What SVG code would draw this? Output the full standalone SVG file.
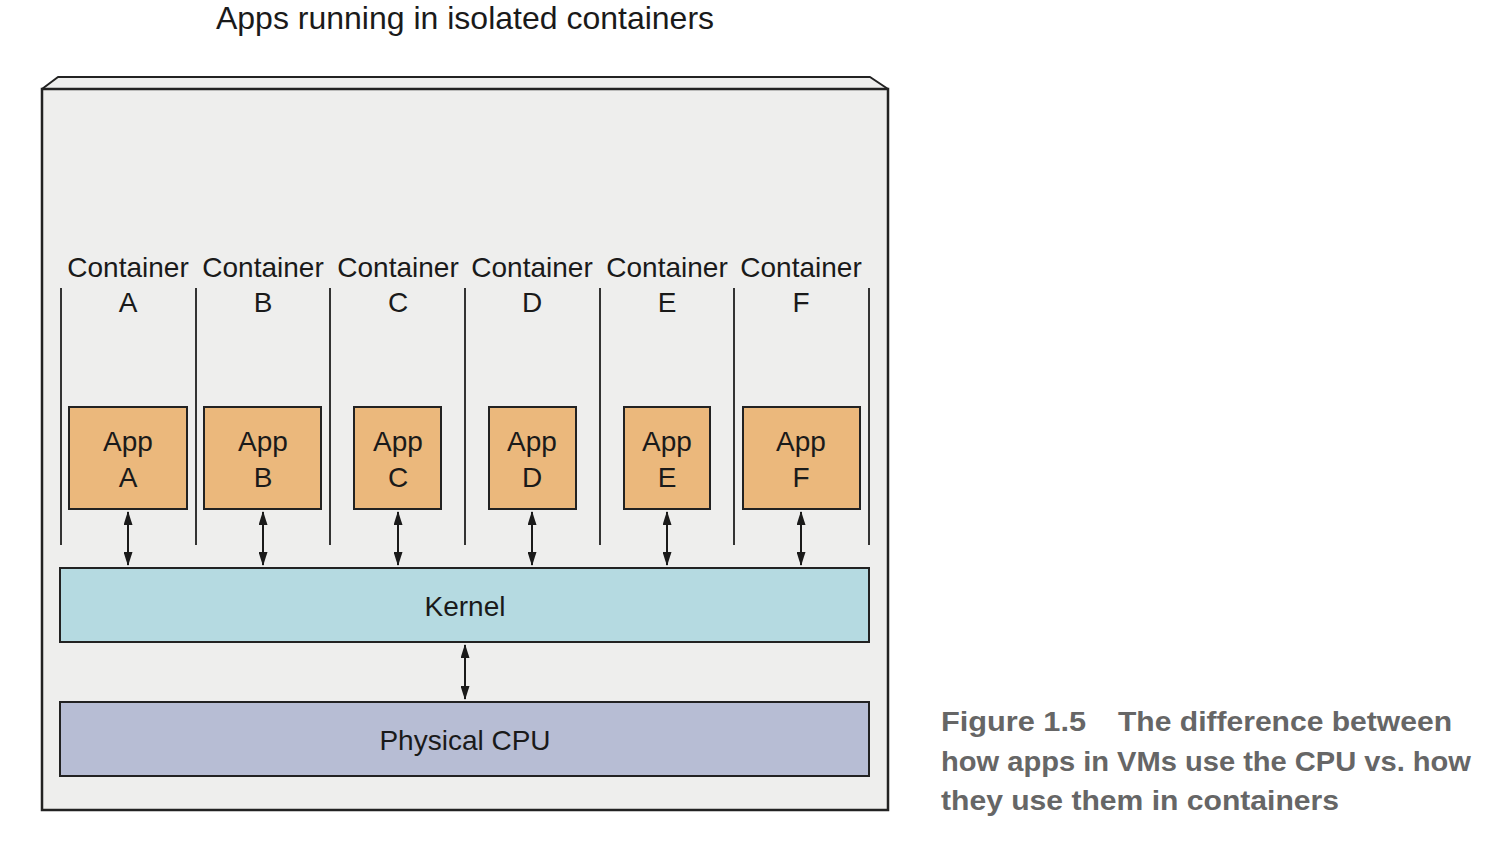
<svg xmlns="http://www.w3.org/2000/svg" width="1486" height="866" viewBox="0 0 1486 866">
<defs>
<style>
text{font-family:"Liberation Sans",Arial,sans-serif;fill:#1a1a1a}
.lbl{font-size:28px;text-anchor:middle}
.app{fill:#ebb87c;stroke:#222;stroke-width:2}
.div{stroke:#333;stroke-width:2;fill:none}
.arr{stroke:#1a1a1a;stroke-width:2;fill:none;marker-start:url(#ah);marker-end:url(#ah)}
.cap{font-size:28px;font-weight:bold;fill:#666}
</style>
<marker id="ah" viewBox="0 0 14 9" refX="13" refY="4.5" markerWidth="14" markerHeight="9" orient="auto-start-reverse" markerUnits="userSpaceOnUse">
<path d="M0,0 L14,4.5 L0,9 Z" fill="#1a1a1a"/>
</marker>
</defs>
<rect width="1486" height="866" fill="#fff"/>
<text x="465" y="29" font-size="32" text-anchor="middle">Apps running in isolated containers</text>
<g id="host">
<path d="M42,89 L58,77 L870,77 L888,89 Z" fill="#eeeeed" stroke="#222" stroke-width="2" stroke-linejoin="round"/>
<rect x="42" y="89" width="846" height="721" fill="#eeeeed" stroke="#222" stroke-width="2.5"/>
</g>
<g id="dividers">
<line class="div" x1="61" y1="288" x2="61" y2="545"/>
<line class="div" x1="196" y1="288" x2="196" y2="545"/>
<line class="div" x1="330" y1="288" x2="330" y2="545"/>
<line class="div" x1="465" y1="288" x2="465" y2="545"/>
<line class="div" x1="600" y1="288" x2="600" y2="545"/>
<line class="div" x1="734" y1="288" x2="734" y2="545"/>
<line class="div" x1="869" y1="288" x2="869" y2="545"/>
</g>
<g id="containerA"><text class="lbl" x="128" y="277">Container</text><text class="lbl" x="128" y="312">A</text></g>
<g id="containerB"><text class="lbl" x="263" y="277">Container</text><text class="lbl" x="263" y="312">B</text></g>
<g id="containerC"><text class="lbl" x="398" y="277">Container</text><text class="lbl" x="398" y="312">C</text></g>
<g id="containerD"><text class="lbl" x="532" y="277">Container</text><text class="lbl" x="532" y="312">D</text></g>
<g id="containerE"><text class="lbl" x="667" y="277">Container</text><text class="lbl" x="667" y="312">E</text></g>
<g id="containerF"><text class="lbl" x="801" y="277">Container</text><text class="lbl" x="801" y="312">F</text></g>
<g id="appA"><rect class="app" x="69" y="407" width="118" height="102"/><text class="lbl" x="128" y="451">App</text><text class="lbl" x="128" y="487">A</text></g>
<g id="appB"><rect class="app" x="204" y="407" width="117" height="102"/><text class="lbl" x="263" y="451">App</text><text class="lbl" x="263" y="487">B</text></g>
<g id="appC"><rect class="app" x="354" y="407" width="87" height="102"/><text class="lbl" x="398" y="451">App</text><text class="lbl" x="398" y="487">C</text></g>
<g id="appD"><rect class="app" x="489" y="407" width="87" height="102"/><text class="lbl" x="532" y="451">App</text><text class="lbl" x="532" y="487">D</text></g>
<g id="appE"><rect class="app" x="624" y="407" width="86" height="102"/><text class="lbl" x="667" y="451">App</text><text class="lbl" x="667" y="487">E</text></g>
<g id="appF"><rect class="app" x="743" y="407" width="117" height="102"/><text class="lbl" x="801" y="451">App</text><text class="lbl" x="801" y="487">F</text></g>
<g id="kernel"><rect x="60" y="568" width="809" height="74" fill="#b5dae1" stroke="#222" stroke-width="2"/><text class="lbl" x="465" y="616">Kernel</text></g>
<g id="cpu"><rect x="60" y="702" width="809" height="74" fill="#b7bdd4" stroke="#222" stroke-width="2"/><text class="lbl" x="465" y="750">Physical CPU</text></g>
<g id="connectors">
<line class="arr" x1="128" y1="512" x2="128" y2="565"/>
<line class="arr" x1="263" y1="512" x2="263" y2="565"/>
<line class="arr" x1="398" y1="512" x2="398" y2="565"/>
<line class="arr" x1="532" y1="512" x2="532" y2="565"/>
<line class="arr" x1="667" y1="512" x2="667" y2="565"/>
<line class="arr" x1="801" y1="512" x2="801" y2="565"/>
<line class="arr" x1="465" y1="645" x2="465" y2="699"/>
</g>
<g id="caption">
<text class="cap" x="941" y="731" textLength="145" lengthAdjust="spacingAndGlyphs">Figure 1.5</text>
<text class="cap" x="1118" y="731" textLength="334" lengthAdjust="spacingAndGlyphs">The difference between</text>
<text class="cap" x="941" y="771" textLength="530" lengthAdjust="spacingAndGlyphs">how apps in VMs use the CPU vs. how</text>
<text class="cap" x="941" y="810" textLength="398" lengthAdjust="spacingAndGlyphs">they use them in containers</text>
</g>
</svg>
